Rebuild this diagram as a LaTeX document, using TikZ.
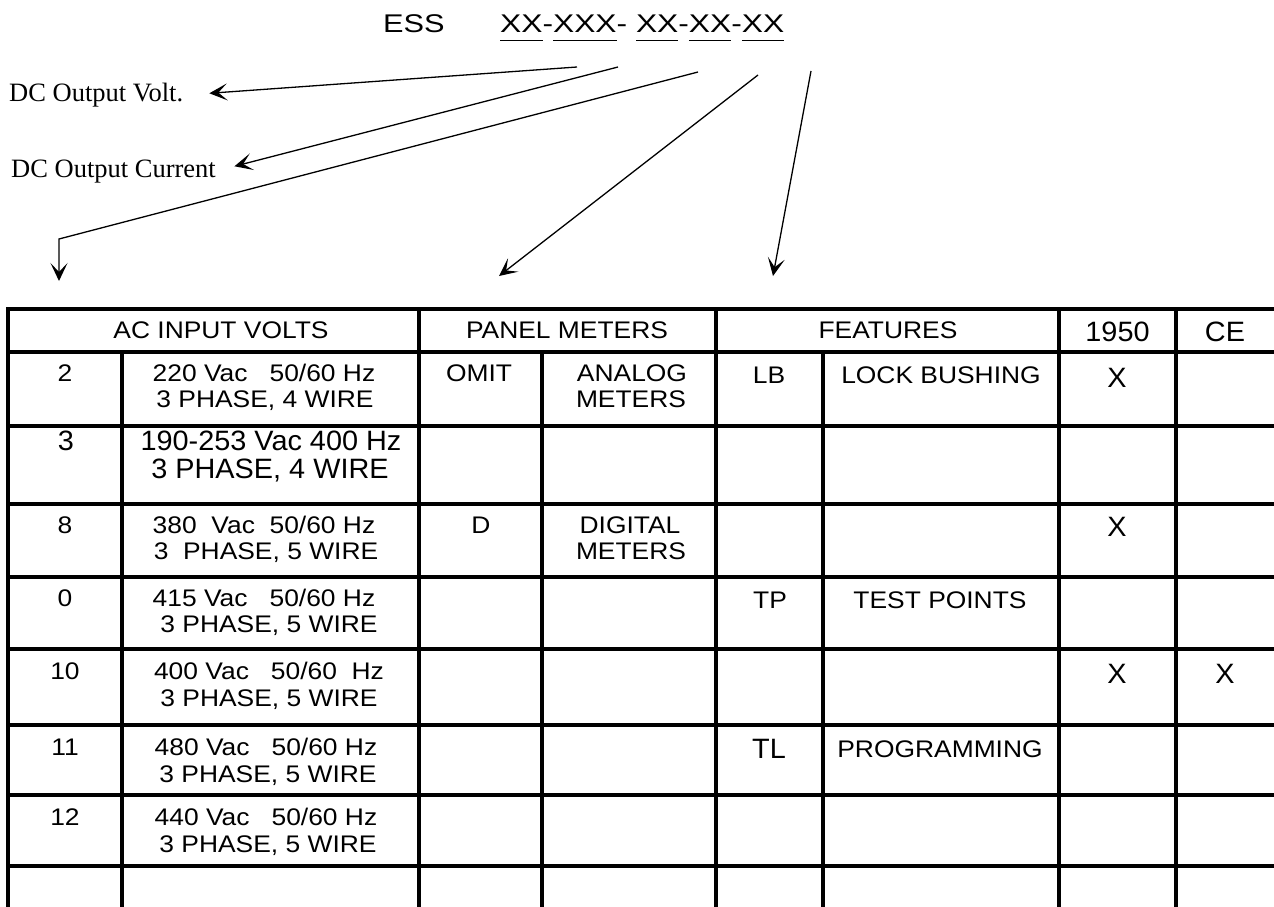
\documentclass[tikz,border=0pt]{standalone}
\usepackage{fontspec}
\setmainfont{Liberation Sans}
\newfontfamily\tabsmall[FakeStretch=1.1]{Liberation Sans}
\newfontfamily\tabbig[FakeStretch=1.03]{Liberation Sans}
\newfontfamily\titlefont[FakeStretch=1.2]{Liberation Sans}
\newfontfamily\codefont[FakeStretch=1.24]{Liberation Sans}
\newfontfamily\labelserif{Liberation Serif}
\usetikzlibrary{arrows.meta}
\newcommand{\codeul}[1]{\leavevmode\vtop{\hbox{#1}\kern7pt\hrule height 1.4pt}}
\begin{document}
\begin{tikzpicture}[x=1pt,y=-1pt,
  cs/.style={inner sep=0pt, anchor=base, font=\tabsmall\fontsize{24}{26}\selectfont},
  cb/.style={inner sep=0pt, anchor=base, font=\tabbig\fontsize{28}{30}\selectfont},
  titletext/.style={inner sep=0pt, anchor=base west, font=\titlefont\fontsize{25.6}{28}\selectfont},
  codetext/.style={inner sep=0pt, anchor=base west, font=\codefont\fontsize{25.6}{28}\selectfont},
  lbl/.style={inner sep=0pt, anchor=base west, font=\labelserif\fontsize{26.5}{28}\selectfont},
  arr/.style={line width=1.3pt, -{Stealth[length=18pt,width=17pt,inset=9pt]}},
  gridline/.style={line width=3.1pt, line cap=rect}]
\useasboundingbox (0,0) rectangle (1274,907);
\fill[white] (0,0) rectangle (1274,907);

% title
\node[titletext] (ess) at (383,33) {ESS};
\node[codetext] (code) at (500,33) {\codeul{XX}-\codeul{XXX}- \codeul{XX}-\codeul{XX}-\codeul{XX}};

% labels
\node[lbl] (lv) at (9,101.5) {DC Output Volt.};
\node[lbl] (lc) at (11,177) {DC Output Current};

% arrows
\coordinate (s1) at (577,67);
\coordinate (s2) at (618,67);
\coordinate (s3) at (698,72);
\coordinate (s4) at (758,75);
\coordinate (s5) at (811,71);
\coordinate (b3) at (59,239);
\coordinate (t3) at (59,281);
\coordinate (t4) at (499,276);
\coordinate (t5) at (773,276);
\draw[arr, shorten >=26pt] (s1) -- (lv.east);
\draw[arr, shorten >=19pt] (s2) -- (lc.east);
\draw[arr] (s3) -- (b3) -- (t3);
\draw[arr] (s4) -- (t4);
\draw[arr] (s5) -- (t5);

% table grid
\foreach \yy in {309,352,426,504,577,649,725,795,866}
  \draw[gridline] (8,\yy) -- (1277,\yy);
\foreach \xx in {8,419,716,1059,1176,1277}
  \draw[gridline] (\xx,309) -- (\xx,920);
\foreach \xx in {122,542,823}
  \draw[gridline] (\xx,352) -- (\xx,920);

% header
\node[cs] (hac) at (221,338) {AC INPUT VOLTS};
\node[cs] (hpm) at (567,338) {PANEL METERS};
\node[cs] (hft) at (888,338) {FEATURES};
\node[cb] (h1950) at (1117.5,341.5) {1950};
\node[cb] (hce) at (1225,341.5) {CE};

% row 1
\node[cs] (n2) at (65,381) {2};
\node[cs] (v2a) at (264,381) {220 Vac\ \ \ 50/60 Hz};
\node[cs] (v2b) at (265,407) {3 PHASE, 4 WIRE};
\node[cs] (omit) at (479,381) {OMIT};
\node[cs] (ana1) at (632,381) {ANALOG};
\node[cs] (ana2) at (631,407) {METERS};
\node[cs] (lb) at (769,383.5) {LB};
\node[cs] (lbt) at (941,383.5) {LOCK BUSHING};
\node[cb] (x1) at (1117,387) {X};

% row 2
\node[cb] (n3) at (66,450) {3};
\node[cb] (v3a) at (271,450) {190-253 Vac 400 Hz};
\node[cb] (v3b) at (270,478) {3 PHASE, 4 WIRE};

% row 3
\node[cs] (n8) at (65,533) {8};
\node[cs] (v8a) at (264,533) {380\ \ Vac\ \ 50/60 Hz};
\node[cs] (v8b) at (266,559) {3\ \ PHASE, 5 WIRE};
\node[cs] (dd) at (481,533) {D};
\node[cs] (dig1) at (630,533) {DIGITAL};
\node[cs] (dig2) at (631,559) {METERS};
\node[cb] (x3) at (1117,536) {X};

% row 4
\node[cs] (n0) at (65,606) {0};
\node[cs] (v0a) at (264,606) {415 Vac\ \ \ 50/60 Hz};
\node[cs] (v0b) at (269,632) {3 PHASE, 5 WIRE};
\node[cs] (tp) at (770,608.5) {TP};
\node[cs] (tpt) at (940,608.5) {TEST POINTS};

% row 5
\node[cs] (n10) at (65,679) {10};
\node[cs] (v10a) at (269,679) {400 Vac\ \ \ 50/60\ \ Hz};
\node[cs] (v10b) at (269,706) {3 PHASE, 5 WIRE};
\node[cb] (x5a) at (1117,683) {X};
\node[cb] (x5b) at (1225,683) {X};

% row 6
\node[cs] (n11) at (65,755) {11};
\node[cs] (v11a) at (266,755) {480 Vac\ \ \ 50/60 Hz};
\node[cs] (v11b) at (268,782) {3 PHASE, 5 WIRE};
\node[cb] (tl) at (769,758) {TL};
\node[cs] (tlt) at (940,757) {PROGRAMMING};

% row 7
\node[cs] (n12) at (65,825) {12};
\node[cs] (v12a) at (266,825) {440 Vac\ \ \ 50/60 Hz};
\node[cs] (v12b) at (268,852) {3 PHASE, 5 WIRE};
\end{tikzpicture}
\end{document}
